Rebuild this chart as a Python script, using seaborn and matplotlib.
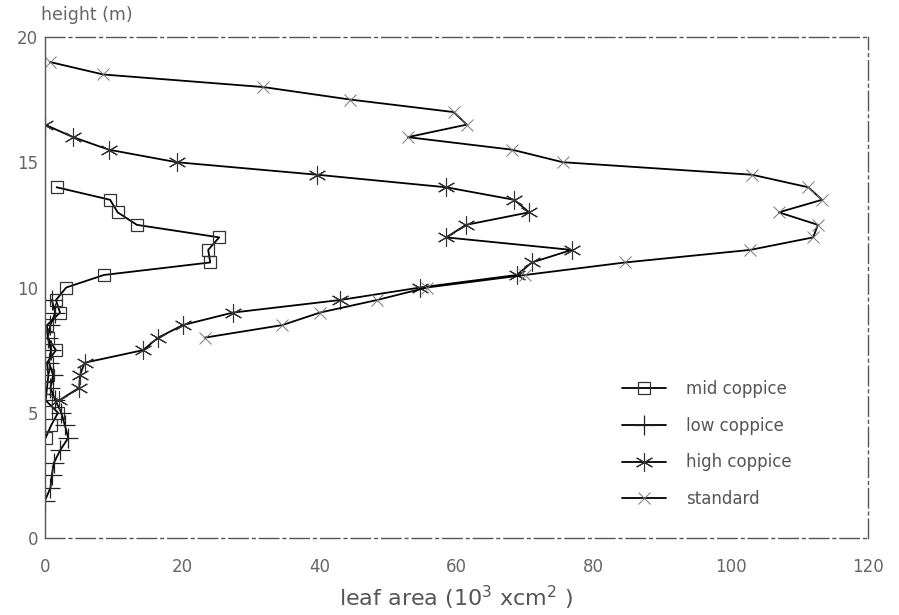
import numpy as np
import pandas as pd
import seaborn as sns
import matplotlib.pyplot as plt
from matplotlib.lines import Line2D

# heights (m) and leaf area (10^3 cm^2)
mid_h = [14, 13.5, 13, 12.5, 12, 11.5, 11, 10.5, 10, 9.5, 9, 8.5, 8, 7.5, 7, 6.5, 6, 5.5, 5, 4.5, 4]
mid_x = [1.7, 9.5, 10.6, 13.4, 25.4, 23.8, 24.1, 8.6, 3.1, 1.6, 2.2, 0.3, 0.4, 1.6, 0.3, 0.5, 0.3, 0.1, 1.9, 0.9, 0.1]

low_h = [9.5, 9, 8.5, 8, 7.5, 7, 6.5, 6, 5.5, 5, 4.5, 4, 3.5, 3, 2.5, 2, 1.5]
low_x = [1.0, 1.5, 0.8, 0.4, 0.9, 0.6, 1.2, 0.8, 1.5, 2.4, 2.9, 3.4, 2.2, 1.3, 1.0, 0.8, 0.0]

high_h = [16.5, 16, 15.5, 15, 14.5, 14, 13.5, 13, 12.5, 12, 11.5, 11, 10.5, 10,
          9.5, 9, 8.5, 8, 7.5, 7, 6.5, 6, 5.5]
high_x = [0.0, 4.1, 9.3, 19.2, 39.7, 58.5, 68.4, 70.6, 61.4, 58.5, 76.8, 71.0, 68.8, 54.7,
          43.0, 27.4, 20.1, 16.5, 14.3, 5.8, 5.1, 5.0, 2.1]

std_h = [19, 18.5, 18, 17.5, 17, 16.5, 16, 15.5, 15, 14.5, 14, 13.5, 13, 12.5, 12,
         11.5, 11, 10.5, 10, 9.5, 9, 8.5, 8]
std_x = [0.7, 8.5, 31.8, 44.5, 59.6, 61.5, 52.9, 68.1, 75.5, 103.1, 111.3, 113.3, 107.0, 112.7, 112.0,
         102.8, 84.6, 70.0, 55.7, 48.4, 40.1, 34.6, 23.3]

series = ["mid coppice", "low coppice", "high coppice", "standard"]
styles = {
    "mid coppice": dict(marker="s", markersize=9, markerfacecolor="none", markeredgecolor="#333333", markeredgewidth=0.9),
    "low coppice": dict(marker="+", markersize=14, markeredgecolor="#222222", markeredgewidth=0.9),
    "high coppice": dict(marker=(6, 2, 0), markersize=13, markeredgecolor="#333333", markeredgewidth=0.8),
    "standard": dict(marker="x", markersize=9, markeredgecolor="#777777", markeredgewidth=0.7),
}

frames = []
for name, h, x in [("mid coppice", mid_h, mid_x), ("low coppice", low_h, low_x),
                   ("high coppice", high_h, high_x), ("standard", std_h, std_x)]:
    frames.append(pd.DataFrame({"height": h, "leaf": x, "layer": name}))
df = pd.concat(frames, ignore_index=True)

sns.set_style("white")
plt.rcParams["font.family"] = ["DejaVu Sans"]

fig = plt.figure(figsize=(8.99, 6.15), dpi=100)
ax = fig.add_axes([0.050, 0.125, 0.9155, 0.815])

for name in series:
    sub = df[df["layer"] == name]
    sns.lineplot(data=sub, x="leaf", y="height", orient="y", estimator=None, sort=True,
                 color="black", linewidth=1.3, ax=ax, **styles[name])

ax.set_xlim(0, 120)
ax.set_ylim(0, 20)
ax.set_xticks([0, 20, 40, 60, 80, 100, 120])
ax.set_yticks([0, 5, 10, 15, 20])
ax.tick_params(direction="in", length=6, width=0.8, color="#555555",
               labelsize=12, labelcolor="#666666")
ax.tick_params(axis="x", pad=14)
ax.tick_params(axis="y", pad=5)
ax.set_xlabel("leaf area (10$^3$ xcm$^2$ )", fontsize=16, color="#555555", labelpad=6)
ax.set_ylabel("")
ax.text(-0.005, 1.025, "height (m)", transform=ax.transAxes, fontsize=12.5,
        color="#666666", ha="left", va="bottom")

for side, sp in ax.spines.items():
    sp.set_visible(True)
    sp.set_color("#555555")
    sp.set_linewidth(1.0)
    if side != "left":
        sp.set_linestyle((0, (14, 3, 2, 3)))

handles = [Line2D([0], [0], color="black", linewidth=1.3, **styles[n]) for n in series]
leg = ax.legend(handles, series, loc="lower right", bbox_to_anchor=(0.925, 0.03),
                frameon=False, fontsize=12, labelspacing=1.12, handlelength=2.6,
                handletextpad=1.2)
for t in leg.get_texts():
    t.set_color("#555555")

fig.savefig("out.png", dpi=100)
